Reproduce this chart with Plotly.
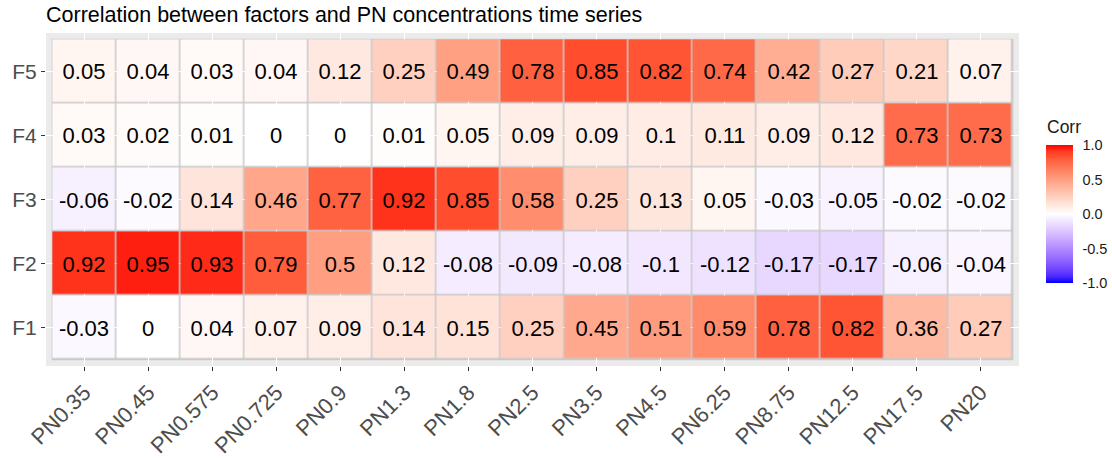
import plotly.graph_objects as go

# ---- data ----
pn_bins = ["PN0.35", "PN0.45", "PN0.575", "PN0.725", "PN0.9", "PN1.3", "PN1.8", "PN2.5",
           "PN3.5", "PN4.5", "PN6.25", "PN8.75", "PN12.5", "PN17.5", "PN20"]
factors = ["F1", "F2", "F3", "F4", "F5"]

f1 = [-0.03, 0, 0.04, 0.07, 0.09, 0.14, 0.15, 0.25, 0.45, 0.51, 0.59, 0.78, 0.82, 0.36, 0.27]
f2 = [0.92, 0.95, 0.93, 0.79, 0.5, 0.12, -0.08, -0.09, -0.08, -0.1, -0.12, -0.17, -0.17, -0.06, -0.04]
f3 = [-0.06, -0.02, 0.14, 0.46, 0.77, 0.92, 0.85, 0.58, 0.25, 0.13, 0.05, -0.03, -0.05, -0.02, -0.02]
f4 = [0.03, 0.02, 0.01, 0, 0, 0.01, 0.05, 0.09, 0.09, 0.1, 0.11, 0.09, 0.12, 0.73, 0.73]
f5 = [0.05, 0.04, 0.03, 0.04, 0.12, 0.25, 0.49, 0.78, 0.85, 0.82, 0.74, 0.42, 0.27, 0.21, 0.07]

cb_ticks = [-1.0, -0.5, 0.0, 0.5, 1.0]
cb_labels = ["-1.0", "-0.5", "0.0", "0.5", "1.0"]

z = [f1, f2, f3, f4, f5]
text = [[f"{v:g}" for v in row] for row in z]


# ---- Lab-space gradient (blue - white - red) like ggplot's gradient2 ----
def srgb_to_lab(rgb):
    def lin(c):
        c = c / 255.0
        return c / 12.92 if c <= 0.04045 else ((c + 0.055) / 1.055) ** 2.4
    r, g, b = (lin(c) for c in rgb)
    x = (0.4124 * r + 0.3576 * g + 0.1805 * b) / 0.95047
    y = (0.2126 * r + 0.7152 * g + 0.0722 * b) / 1.0
    zz = (0.0193 * r + 0.1192 * g + 0.9505 * b) / 1.08883

    def f(t):
        return t ** (1 / 3) if t > 0.008856 else 7.787 * t + 16 / 116
    fx, fy, fz = f(x), f(y), f(zz)
    return (116 * fy - 16, 500 * (fx - fy), 200 * (fy - fz))


def lab_to_srgb(lab):
    L, a, b = lab
    fy = (L + 16) / 116
    fx = fy + a / 500
    fz = fy - b / 200

    def finv(t):
        return t ** 3 if t ** 3 > 0.008856 else (t - 16 / 116) / 7.787
    x = finv(fx) * 0.95047
    y = finv(fy) * 1.0
    zz = finv(fz) * 1.08883
    r = 3.2406 * x - 1.5372 * y - 0.4986 * zz
    g = -0.9689 * x + 1.8758 * y + 0.0415 * zz
    bb = 0.0557 * x - 0.2040 * y + 1.0570 * zz

    def gam(c):
        c = 12.92 * c if c <= 0.0031308 else 1.055 * c ** (1 / 2.4) - 0.055
        return int(round(min(max(c, 0), 1) * 255))
    return f"rgb({gam(r)},{gam(g)},{gam(bb)})"


low, mid, high = srgb_to_lab((0, 0, 255)), srgb_to_lab((255, 255, 255)), srgb_to_lab((255, 0, 0))
colorscale = []
n = 20
for i in range(n + 1):
    t = i / n
    if t <= 0.5:
        u = t / 0.5
        lab = tuple(low[k] + (mid[k] - low[k]) * u for k in range(3))
    else:
        u = (t - 0.5) / 0.5
        lab = tuple(mid[k] + (high[k] - mid[k]) * u for k in range(3))
    colorscale.append([t, lab_to_srgb(lab)])

FONT = "Liberation Sans, Arial, sans-serif"

# layout geometry (pixels)
W, H = 1112, 458
ML, MR, MT, MB = 46, 93, 33, 92
PH = H - MT - MB
PW = W - ML - MR

fig = go.Figure()
fig.add_trace(go.Heatmap(
    z=z, x=pn_bins, y=factors, text=text, texttemplate="%{text}",
    textfont=dict(size=22, color="black", family=FONT),
    colorscale=colorscale, zmin=-1, zmax=1, xgap=1.5, ygap=1.5,
    hoverinfo="skip",
    colorbar=dict(
        tickvals=cb_ticks, ticktext=cb_labels,
        tickfont=dict(size=14.5, color="#1a1a1a", family=FONT),
        ticks="outside", ticklen=7, tickcolor="rgba(0,0,0,0)", tickwidth=1,
        outlinewidth=0, thicknessmode="pixels", thickness=27,
        lenmode="pixels", len=138,
        xref="paper", x=(1046 - ML) / PW, xanchor="left",
        yref="paper", y=(H - MB - 283) / PH, yanchor="bottom",
        ypad=0, xpad=0,
    ),
))

# cell border colour backdrop (drawn under the tiles)
fig.add_shape(type="rect", xref="x", yref="y", x0=-0.5, x1=len(pn_bins) - 0.5,
              y0=-0.5, y1=len(factors) - 0.5, fillcolor="#c9c9c9",
              line=dict(color="#c9c9c9", width=1.5), layer="below")

fig.add_annotation(text="Corr", xref="paper", yref="paper",
                   x=(1045 - ML) / PW, y=(H - MB - 127) / PH,
                   xanchor="left", yanchor="middle", showarrow=False,
                   font=dict(size=17.5, color="#1a1a1a", family=FONT))

fig.update_layout(
    width=W, height=H,
    margin=dict(l=ML, r=MR, t=MT, b=MB, autoexpand=False),
    paper_bgcolor="white", plot_bgcolor="#EBEBEB",
    font=dict(family=FONT),
    title=dict(text="Correlation between factors and PN concentrations time series",
               font=dict(size=21.5, color="black", family=FONT),
               xref="paper", x=0, xanchor="left",
               yref="container", y=1 - 14 / H, yanchor="middle", pad=dict(l=0, r=0, t=0, b=0)),
)
fig.update_xaxes(type="category", range=[-0.6, len(pn_bins) - 0.4], showgrid=True,
                 gridcolor="white", gridwidth=1, ticks="outside", ticklen=4,
                 tickcolor="#333333", tickangle=-45, automargin=False,
                 tickfont=dict(size=22, color="#4D4D4D", family=FONT),
                 zeroline=False, showline=False, fixedrange=True)
fig.update_yaxes(type="category", range=[-0.6, len(factors) - 0.4], showgrid=True,
                 gridcolor="white", gridwidth=1, ticks="outside", ticklen=4,
                 tickcolor="#333333", automargin=False,
                 tickfont=dict(size=21, color="#4D4D4D", family=FONT),
                 zeroline=False, showline=False, fixedrange=True)

fig.write_html("out.html")
